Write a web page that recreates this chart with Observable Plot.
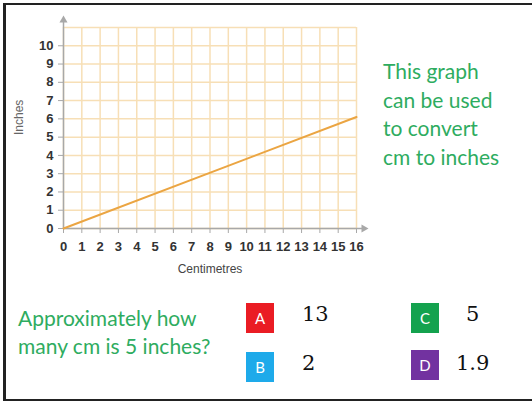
<!DOCTYPE html>
<html>
<head>
<meta charset="utf-8">
<script src="https://cdn.jsdelivr.net/npm/d3@7"></script>
<script src="https://cdn.jsdelivr.net/npm/@observablehq/plot@0.6"></script>
<style>
  html, body { margin: 0; padding: 0; background: #fff; overflow: hidden; width: 532px; height: 401px; }
  #frame { position: absolute; left: 3px; top: 3px; width: 560px; height: 394px;
           border-top: 2px solid #222; border-left: 3px solid #222; border-bottom: 2px solid #222; }
  #chart { position: absolute; left: 0; top: 0; }
  .green { position: absolute; color: #2eac60; font-family: Lato, "Open Sans", sans-serif; }
  #note { left: 383px; top: 57px; font-size: 21px; line-height: 28.5px; }
  #question { left: 18px; top: 304px; font-size: 21px; line-height: 27.5px; }
  .box { position: absolute; width: 28px; height: 30px; color: #fff; font-family: Lato, sans-serif;
         font-size: 15px; line-height: 30px; text-align: center; }
  .ans { position: absolute; font-family: "DejaVu Serif", "Liberation Serif", serif; font-size: 21px; color: #111; }
</style>
</head>
<body>
<div id="frame"></div>
<div id="chart"></div>
<div id="note" class="green">This graph<br>can be used<br>to convert<br>cm to inches</div>
<div id="question" class="green">Approximately how<br>many cm is 5 inches?</div>
<div id="answers"></div>
<script>
// Data
const cm = [0, 16];
const inches = [0, 6.1];
const xTicks = [0,1,2,3,4,5,6,7,8,9,10,11,12,13,14,15,16];
const yTicks = [0,1,2,3,4,5,6,7,8,9,10];
const yGrid = [0,1,2,3,4,5,6,7,8,9,10,11];
const xLabel = "Centimetres";
const yLabel = "Inches";
const axisEnd = {x: 16.4, y: 11.4};

const choiceLetters = ["A", "B", "C", "D"];
const choiceValues = ["13", "2", "5", "1.9"];
const choiceColors = ["#ea1c24", "#1eaaea", "#14a24e", "#7232a0"];

const lineData = cm.map((c, i) => ({cm: c, in: inches[i]}));

const gridColor = "#f7dfb6";
const axisColor = "#a8a8a8";

const chart = Plot.plot({
  width: 380,
  height: 290,
  marginLeft: 63,
  marginRight: 24,
  marginTop: 27,
  marginBottom: 62,
  style: {fontFamily: "'Liberation Sans', Arial, sans-serif", background: "transparent"},
  x: {domain: [0, 16]},
  y: {domain: [0, 11]},
  marks: [
    Plot.gridX(xTicks, {stroke: gridColor, strokeOpacity: 1, strokeWidth: 1.5}),
    Plot.gridY(yGrid, {stroke: gridColor, strokeOpacity: 1, strokeWidth: 1.5}),
    Plot.ruleX([0], {y1: 0, y2: axisEnd.y, stroke: axisColor, strokeWidth: 1.5}),
    Plot.ruleY([0], {x1: 0, x2: axisEnd.x, stroke: axisColor, strokeWidth: 1.5}),
    Plot.dot([{x: 0, y: axisEnd.y}], {x: "x", y: "y", symbol: "triangle", r: 3, fill: axisColor, stroke: null}),
    Plot.dot([{x: axisEnd.x, y: 0}], {x: "x", y: "y", symbol: "triangle", r: 3, fill: axisColor, stroke: null, rotate: 90}),
    Plot.axisX(xTicks, {tickSize: 5, tickPadding: 8, stroke: axisColor, fill: "#333", fontWeight: "bold", fontSize: 13, label: null, tickFormat: d => String(d)}),
    Plot.axisY(yTicks, {tickSize: 5, tickPadding: 5, stroke: axisColor, fill: "#333", fontWeight: "bold", fontSize: 13, label: null, tickFormat: d => String(d)}),
    Plot.line(lineData, {x: "cm", y: "in", stroke: "#eba542", strokeWidth: 2}),
    Plot.text([xLabel], {frameAnchor: "bottom", dy: 44, text: d => d, fontSize: 12, fill: "#444"}),
    Plot.text([yLabel], {frameAnchor: "left", dx: -44, dy: 7, rotate: -90, text: d => d, fontSize: 12, fill: "#666"})
  ]
});
document.getElementById("chart").appendChild(chart);

// Answer boxes (layout)
const pos = [
  {bx: 246, by: 303, tx: 302, ty: 302},
  {bx: 246, by: 352, tx: 302, ty: 351},
  {bx: 411, by: 303, tx: 466, ty: 302},
  {bx: 411, by: 350, tx: 456, ty: 351}
];
const ans = document.getElementById("answers");
choiceLetters.forEach((L, i) => {
  const b = document.createElement("div");
  b.className = "box";
  b.style.left = pos[i].bx + "px";
  b.style.top = pos[i].by + "px";
  b.style.background = choiceColors[i];
  b.textContent = L;
  ans.appendChild(b);
  const t = document.createElement("div");
  t.className = "ans";
  t.style.left = pos[i].tx + "px";
  t.style.top = pos[i].ty + "px";
  t.textContent = choiceValues[i];
  ans.appendChild(t);
});
</script>
</body>
</html>
